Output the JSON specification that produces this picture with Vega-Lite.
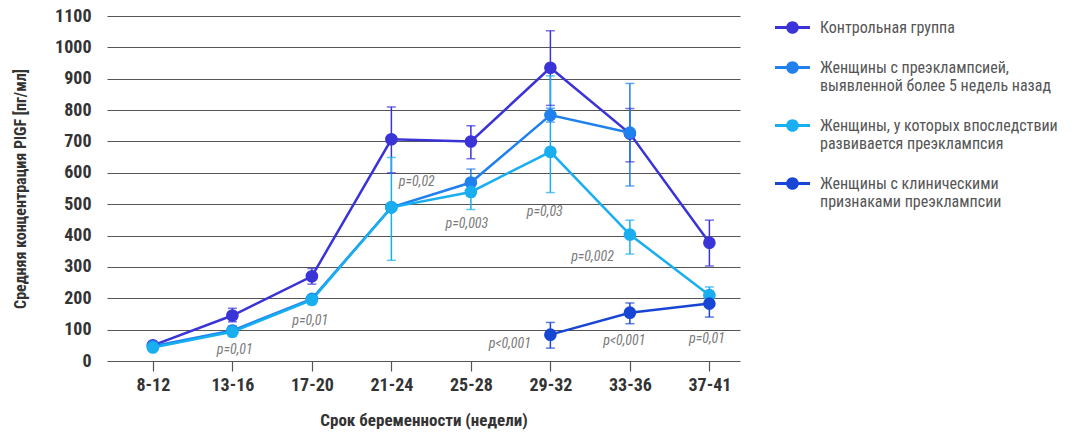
{
  "$schema": "https://vega.github.io/schema/vega-lite/v6.json",
  "width": 633,
  "height": 345,
  "autosize": {"type": "none"},
  "padding": {"left": 107, "top": 16, "right": 347, "bottom": 73},
  "background": "#ffffff",
  "config": {
    "view": {"stroke": null},
    "font": "Roboto Condensed, Liberation Sans Narrow, DejaVu Sans Condensed, Roboto"
  },
  "datasets": {
    "series": [
      {"week": "8-12", "i": 0, "group": "Контрольная группа", "value": 50, "lo": null, "hi": null},
      {"week": "13-16", "i": 1, "group": "Контрольная группа", "value": 145, "lo": 125, "hi": 168},
      {"week": "17-20", "i": 2, "group": "Контрольная группа", "value": 270, "lo": 245, "hi": 295},
      {"week": "21-24", "i": 3, "group": "Контрольная группа", "value": 707, "lo": 600, "hi": 810},
      {"week": "25-28", "i": 4, "group": "Контрольная группа", "value": 700, "lo": 645, "hi": 750},
      {"week": "29-32", "i": 5, "group": "Контрольная группа", "value": 935, "lo": 815, "hi": 1053},
      {"week": "33-36", "i": 6, "group": "Контрольная группа", "value": 725, "lo": 635, "hi": 805},
      {"week": "37-41", "i": 7, "group": "Контрольная группа", "value": 377, "lo": 303, "hi": 449},
      {"week": "8-12", "i": 0, "group": "Женщины с преэклампсией,|выявленной  более 5 недель назад", "value": 47, "lo": null, "hi": null},
      {"week": "13-16", "i": 1, "group": "Женщины с преэклампсией,|выявленной  более 5 недель назад", "value": 97, "lo": null, "hi": null},
      {"week": "17-20", "i": 2, "group": "Женщины с преэклампсией,|выявленной  более 5 недель назад", "value": 198, "lo": null, "hi": null},
      {"week": "21-24", "i": 3, "group": "Женщины с преэклампсией,|выявленной  более 5 недель назад", "value": 490, "lo": null, "hi": null},
      {"week": "25-28", "i": 4, "group": "Женщины с преэклампсией,|выявленной  более 5 недель назад", "value": 569, "lo": 525, "hi": 612},
      {"week": "29-32", "i": 5, "group": "Женщины с преэклампсией,|выявленной  более 5 недель назад", "value": 784, "lo": 762, "hi": 806},
      {"week": "33-36", "i": 6, "group": "Женщины с преэклампсией,|выявленной  более 5 недель назад", "value": 728, "lo": 558, "hi": 885},
      {"week": "8-12", "i": 0, "group": "Женщины, у которых впоследствии|развивается преэклампсия", "value": 43, "lo": null, "hi": null},
      {"week": "13-16", "i": 1, "group": "Женщины, у которых впоследствии|развивается преэклампсия", "value": 93, "lo": 78, "hi": 112},
      {"week": "17-20", "i": 2, "group": "Женщины, у которых впоследствии|развивается преэклампсия", "value": 195, "lo": 180, "hi": 210},
      {"week": "21-24", "i": 3, "group": "Женщины, у которых впоследствии|развивается преэклампсия", "value": 490, "lo": 321, "hi": 649},
      {"week": "25-28", "i": 4, "group": "Женщины, у которых впоследствии|развивается преэклампсия", "value": 539, "lo": 483, "hi": 580},
      {"week": "29-32", "i": 5, "group": "Женщины, у которых впоследствии|развивается преэклампсия", "value": 667, "lo": 537, "hi": 909},
      {"week": "33-36", "i": 6, "group": "Женщины, у которых впоследствии|развивается преэклампсия", "value": 403, "lo": 341, "hi": 449},
      {"week": "37-41", "i": 7, "group": "Женщины, у которых впоследствии|развивается преэклампсия", "value": 210, "lo": 190, "hi": 236},
      {"week": "29-32", "i": 5, "group": "Женщины с клиническими|признаками преэклампсии", "value": 84, "lo": 41, "hi": 123},
      {"week": "33-36", "i": 6, "group": "Женщины с клиническими|признаками преэклампсии", "value": 154, "lo": 119, "hi": 185},
      {"week": "37-41", "i": 7, "group": "Женщины с клиническими|признаками преэклампсии", "value": 183, "lo": 140, "hi": 222}
    ],
    "notes": [
      {"label": "p=0,01", "at": 1.03, "value": 36},
      {"label": "p=0,01", "at": 1.98, "value": 128},
      {"label": "p=0,02", "at": 3.32, "value": 571},
      {"label": "p=0,003", "at": 3.95, "value": 438},
      {"label": "p=0,03", "at": 4.93, "value": 476},
      {"label": "p=0,002", "at": 5.53, "value": 332},
      {"label": "p<0,001", "at": 4.49, "value": 55},
      {"label": "p<0,001", "at": 5.93, "value": 64},
      {"label": "p=0,01", "at": 6.97, "value": 71}
    ]
  },
  "encoding": {
    "x": {
      "field": "i", "type": "quantitative",
      "scale": {"domain": [-0.577, 7.385], "nice": false, "zero": false},
      "axis": {
        "values": [0, 1, 2, 3, 4, 5, 6, 7],
        "labelExpr": "['8-12','13-16','17-20','21-24','25-28','29-32','33-36','37-41'][datum.value]",
        "grid": false, "domain": false,
        "ticks": true, "tickSize": 10, "tickColor": "#555555", "tickWidth": 1.2,
        "labelFontSize": 18, "labelFontWeight": "bold", "labelColor": "#333333", "labelPadding": 5,
        "title": "Срок беременности (недели)",
        "titleFontSize": 17, "titleFontWeight": "bold", "titleColor": "#333333", "titlePadding": 18
      }
    },
    "color": {
      "field": "group", "type": "nominal",
      "sort": null,
      "scale": {
        "domain": ["Контрольная группа", "Женщины с преэклампсией,|выявленной  более 5 недель назад", "Женщины, у которых впоследствии|развивается преэклампсия", "Женщины с клиническими|признаками преэклампсии"],
        "range": ["#3a33d8", "#1f80ee", "#18aef0", "#1846d4"]
      },
      "legend": {
        "title": null,
        "orient": "none",
        "legendX": 668,
        "legendY": -6,
        "labelExpr": "split(datum.label, '|')",
        "labelFontSize": 16,
        "labelColor": "#555555",
        "labelLineHeight": 22,
        "labelLimit": 400,
        "labelOffset": 10,
        "rowPadding": 14,
        "symbolType": "M-1,-0.08L1,-0.08L1,0.08L-1,0.08Z M0.36,0A0.36,0.36 0 1,1 -0.36,0A0.36,0.36 0 1,1 0.36,0Z",
        "symbolSize": 1225,
        "symbolStrokeWidth": 0,
        "symbolOpacity": 1
      }
    }
  },
  "layer": [
    {
      "data": {"name": "series"},
      "mark": {"type": "rule", "strokeWidth": 1.5},
      "encoding": {
        "y": {
          "field": "lo", "type": "quantitative",
          "scale": {"domain": [0, 1100], "nice": false},
          "axis": {
            "values": [0, 100, 200, 300, 400, 500, 600, 700, 800, 900, 1000, 1100],
            "format": "d", "labelOverlap": false, "grid": true, "gridColor": "#555555", "gridWidth": 1.2,
            "domain": false, "ticks": false,
            "labelFontSize": 18, "labelFontWeight": "bold", "labelColor": "#333333", "labelPadding": 16,
            "title": "Средняя концентрация PlGF [пг/мл]",
            "titleFontSize": 16, "titleFontWeight": "bold", "titleColor": "#333333", "titlePadding": 26
          }
        },
        "y2": {"field": "hi"}
      }
    },
    {
      "data": {"name": "series"},
      "mark": {"type": "tick", "orient": "horizontal", "size": 9, "thickness": 1.5},
      "encoding": {
        "y": {
          "field": "lo", "type": "quantitative",
          "scale": {"domain": [0, 1100], "nice": false},
          "axis": {
            "values": [0, 100, 200, 300, 400, 500, 600, 700, 800, 900, 1000, 1100],
            "format": "d", "labelOverlap": false, "grid": true, "gridColor": "#555555", "gridWidth": 1.2,
            "domain": false, "ticks": false,
            "labelFontSize": 18, "labelFontWeight": "bold", "labelColor": "#333333", "labelPadding": 16,
            "title": "Средняя концентрация PlGF [пг/мл]",
            "titleFontSize": 16, "titleFontWeight": "bold", "titleColor": "#333333", "titlePadding": 26
          }
        }
      }
    },
    {
      "data": {"name": "series"},
      "mark": {"type": "tick", "orient": "horizontal", "size": 9, "thickness": 1.5},
      "encoding": {
        "y": {
          "field": "hi", "type": "quantitative",
          "scale": {"domain": [0, 1100], "nice": false},
          "axis": {
            "values": [0, 100, 200, 300, 400, 500, 600, 700, 800, 900, 1000, 1100],
            "format": "d", "labelOverlap": false, "grid": true, "gridColor": "#555555", "gridWidth": 1.2,
            "domain": false, "ticks": false,
            "labelFontSize": 18, "labelFontWeight": "bold", "labelColor": "#333333", "labelPadding": 16,
            "title": "Средняя концентрация PlGF [пг/мл]",
            "titleFontSize": 16, "titleFontWeight": "bold", "titleColor": "#333333", "titlePadding": 26
          }
        }
      }
    },
    {
      "data": {"name": "series"},
      "mark": {"type": "line", "strokeWidth": 2.5},
      "encoding": {
        "y": {
          "field": "value", "type": "quantitative",
          "scale": {"domain": [0, 1100], "nice": false},
          "axis": {
            "values": [0, 100, 200, 300, 400, 500, 600, 700, 800, 900, 1000, 1100],
            "format": "d", "labelOverlap": false, "grid": true, "gridColor": "#555555", "gridWidth": 1.2,
            "domain": false, "ticks": false,
            "labelFontSize": 18, "labelFontWeight": "bold", "labelColor": "#333333", "labelPadding": 16,
            "title": "Средняя концентрация PlGF [пг/мл]",
            "titleFontSize": 16, "titleFontWeight": "bold", "titleColor": "#333333", "titlePadding": 26
          }
        }
      }
    },
    {
      "data": {"name": "series"},
      "mark": {"type": "point", "filled": true, "opacity": 1, "size": 160, "shape": "circle"},
      "encoding": {
        "y": {
          "field": "value", "type": "quantitative",
          "scale": {"domain": [0, 1100], "nice": false},
          "axis": {
            "values": [0, 100, 200, 300, 400, 500, 600, 700, 800, 900, 1000, 1100],
            "format": "d", "labelOverlap": false, "grid": true, "gridColor": "#555555", "gridWidth": 1.2,
            "domain": false, "ticks": false,
            "labelFontSize": 18, "labelFontWeight": "bold", "labelColor": "#333333", "labelPadding": 16,
            "title": "Средняя концентрация PlGF [пг/мл]",
            "titleFontSize": 16, "titleFontWeight": "bold", "titleColor": "#333333", "titlePadding": 26
          }
        }
      }
    },
    {
      "data": {"name": "notes"},
      "mark": {"type": "text", "fontSize": 14, "fontStyle": "italic", "color": "#7a7a7a"},
      "encoding": {
        "x": {"field": "at", "type": "quantitative"},
        "y": {
          "field": "value", "type": "quantitative",
          "scale": {"domain": [0, 1100], "nice": false},
          "axis": {
            "values": [0, 100, 200, 300, 400, 500, 600, 700, 800, 900, 1000, 1100],
            "format": "d", "labelOverlap": false, "grid": true, "gridColor": "#555555", "gridWidth": 1.2,
            "domain": false, "ticks": false,
            "labelFontSize": 18, "labelFontWeight": "bold", "labelColor": "#333333", "labelPadding": 16,
            "title": "Средняя концентрация PlGF [пг/мл]",
            "titleFontSize": 16, "titleFontWeight": "bold", "titleColor": "#333333", "titlePadding": 26
          }
        },
        "text": {"field": "label"},
        "color": {"value": "#7a7a7a"}
      }
    }
  ]
}
